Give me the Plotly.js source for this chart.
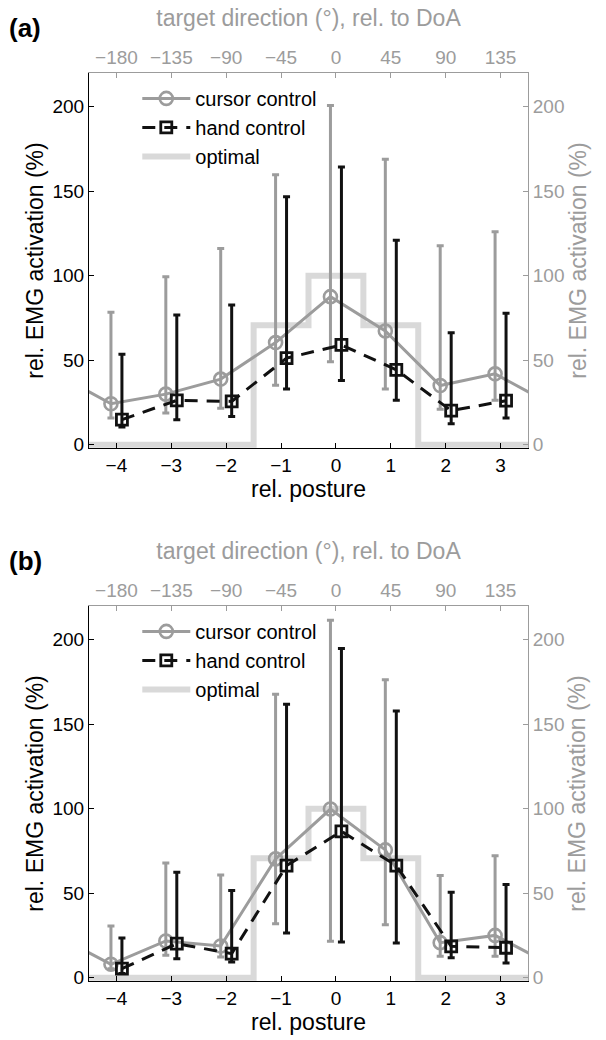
<!DOCTYPE html>
<html>
<head>
<meta charset="utf-8">
<script src="https://cdn.plot.ly/plotly-3.0.1.min.js"></script>
<style>html,body{margin:0;padding:0;background:#fff;}#chart{width:606px;height:1040px;}</style>
</head>
<body>
<div id="chart"></div>
<script>
// ---- data ----
const postures = [-4, -3, -2, -1, 0, 1, 2, 3];
const postureLabels = ['\u22124', '\u22123', '\u22122', '\u22121', '0', '1', '2', '3'];
const directions = ['\u2212180', '\u2212135', '\u221290', '\u221245', '0', '45', '90', '135'];
const yTicks = [0, 50, 100, 150, 200];

const optimalA = [0, 0, 0, 70.7, 100, 70.7, 0, 0];
const optimalB = [0, 0, 0, 70.7, 100, 70.7, 0, 0];

const cursorMeanA  = [24.2, 29.9, 38.8, 60.4, 87.6, 67.3, 35.0, 41.9];
const cursorUpperA = [78.3, 99.4, 116.1, 159.8, 200.7, 169.0, 117.7, 126.0];
const cursorLowerA = [15.7, 18.7, 21.5, 35.2, 49.0, 32.9, 21.0, 26.2];

const handMeanA  = [14.8, 26.2, 25.6, 51.2, 59.0, 44.3, 20.1, 26.0];
const handUpperA = [53.5, 76.8, 82.7, 146.7, 164.4, 121.0, 66.3, 77.8];
const handLowerA = [10.4, 14.8, 16.7, 32.9, 38.0, 26.2, 12.4, 15.7];

const cursorMeanB  = [7.9, 21.7, 18.7, 70.3, 99.8, 75.6, 20.7, 25.0];
const cursorUpperB = [30.5, 67.9, 60.8, 167.7, 211.5, 176.4, 60.4, 72.2];
const cursorLowerB = [5.3, 13.2, 12.2, 31.9, 21.5, 31.3, 12.6, 12.6];

const handMeanB  = [5.3, 20.1, 14.2, 66.3, 86.6, 66.3, 18.5, 17.7];
const handUpperB = [23.4, 62.4, 51.6, 161.8, 194.9, 157.9, 50.6, 55.1];
const handLowerB = [2.4, 11.2, 9.3, 26.4, 21.1, 20.5, 11.8, 8.7];

// ---- style ----
const GRAY = '#9c9c9c';
const LIGHT = '#d9d9d9';
const BLACK = '#111111';
const FONT = 'Liberation Sans, Arial, Helvetica, sans-serif';
const OFFSET = 0.1;
const N = postures.length;

// periodic wrap helpers (posture axis is circular)
function wrapX(off) {
  return [postures[N - 1] - N + off].concat(postures.map(p => p + off), [postures[0] + N + off]);
}
function wrapY(arr) { return [arr[N - 1]].concat(arr, [arr[0]]); }

function panelTraces(optimal, cMean, cUp, cLo, hMean, hUp, hLo, xa, xaTop, ya, yaRight, leg) {
  const cm = wrapY(cMean), cu = wrapY(cUp), cl = wrapY(cLo);
  return [
    {
      type: 'scatter', mode: 'lines', name: 'optimal',
      x: wrapX(0), y: wrapY(optimal), xaxis: xa, yaxis: ya, legend: leg,
      line: {color: LIGHT, width: 6, shape: 'hvh'},
      hoverinfo: 'skip', legendrank: 3
    },
    {
      type: 'scatter', mode: 'lines+markers', name: 'cursor control',
      x: wrapX(-OFFSET), y: cm, xaxis: xa, yaxis: ya, legend: leg,
      line: {color: GRAY, width: 3},
      marker: {symbol: 'circle-open', size: 13, color: GRAY, line: {width: 2.6, color: GRAY}},
      error_y: {type: 'data', symmetric: false,
        array: cu.map((u, i) => u - cm[i]), arrayminus: cm.map((m, i) => m - cl[i]),
        color: GRAY, thickness: 3, width: 3.5},
      legendrank: 1
    },
    {
      type: 'scatter', mode: 'lines+markers', name: 'hand control',
      x: postures.map(p => p + OFFSET), y: hMean, xaxis: xa, yaxis: ya, legend: leg,
      line: {color: BLACK, width: 3, dash: '13px,9px'},
      marker: {symbol: 'square-open', size: 11, color: BLACK, line: {width: 2.8, color: BLACK}},
      error_y: {type: 'data', symmetric: false,
        array: hUp.map((u, i) => u - hMean[i]), arrayminus: hMean.map((m, i) => m - hLo[i]),
        color: BLACK, thickness: 3, width: 3.5},
      legendrank: 2
    },
    // invisible carriers so the secondary (top / right) axes are drawn
    {type: 'scatter', mode: 'markers', x: [postures[0]], y: [yTicks[0]], xaxis: xaTop, yaxis: ya,
     marker: {opacity: 0}, showlegend: false, hoverinfo: 'skip'},
    {type: 'scatter', mode: 'markers', x: [postures[0]], y: [yTicks[0]], xaxis: xa, yaxis: yaRight,
     marker: {opacity: 0}, showlegend: false, hoverinfo: 'skip'}
  ];
}

const data = [].concat(
  panelTraces(optimalA, cursorMeanA, cursorUpperA, cursorLowerA, handMeanA, handUpperA, handLowerA, 'x', 'x2', 'y', 'y2', 'legend'),
  panelTraces(optimalB, cursorMeanB, cursorUpperB, cursorLowerB, handMeanB, handUpperB, handLowerB, 'x3', 'x4', 'y3', 'y4', 'legend2')
);

const TICKF = {family: FONT, size: 19, color: '#000'};
const TICKG = {family: FONT, size: 19, color: GRAY};
const TITLEF = {family: FONT, size: 23, color: '#000'};
const TITLEG = {family: FONT, size: 23, color: GRAY};
const XR = [-4.5, 3.5], YR = [-2, 220];

function bottomX(anchor) {
  return {anchor: anchor, domain: [0, 1], range: XR, tickvals: postures, ticktext: postureLabels,
    ticks: 'inside', ticklen: 5, tickcolor: '#000', showline: true, linecolor: '#000', linewidth: 1,
    showgrid: false, zeroline: false, tickfont: TICKF, title: {text: 'rel. posture', font: TITLEF, standoff: 4}};
}
function topX(over, anchor) {
  return {overlaying: over, anchor: anchor, side: 'top', range: XR, tickvals: postures, ticktext: directions,
    ticks: 'inside', ticklen: 5, tickcolor: GRAY, showline: true, linecolor: GRAY, linewidth: 1,
    showgrid: false, zeroline: false, tickfont: TICKG,
    title: {text: 'target direction (\u00b0), rel. to DoA', font: TITLEG, standoff: 14}};
}
function leftY(anchor, dom) {
  return {anchor: anchor, domain: dom, range: YR, tickvals: yTicks, ticks: 'inside', ticklen: 5, tickcolor: '#000',
    showline: true, linecolor: '#000', linewidth: 1, showgrid: false, zeroline: false, tickfont: TICKF,
    title: {text: 'rel. EMG activation (%)', font: TITLEF, standoff: 2}};
}
function rightY(over, anchor) {
  return {overlaying: over, anchor: anchor, side: 'right', range: YR, tickvals: yTicks, ticks: 'inside', ticklen: 5, tickcolor: GRAY,
    showline: true, linecolor: GRAY, linewidth: 1, showgrid: false, zeroline: false, tickfont: TICKG,
    title: {text: 'rel. EMG activation (%)', font: TITLEG, standoff: 2}};
}

const legendBase = {bgcolor: 'rgba(0,0,0,0)', borderwidth: 0, font: {family: FONT, size: 20, color: '#000'},
  xanchor: 'left', yanchor: 'top', traceorder: 'normal', itemclick: false, itemwidth: 48};

const layout = {
  width: 606, height: 1040,
  margin: {l: 89, r: 78, t: 73, b: 59},
  paper_bgcolor: '#fff', plot_bgcolor: '#fff',
  showlegend: true,
  font: {family: FONT},
  xaxis: bottomX('y'),
  xaxis2: topX('x', 'y'),
  yaxis: leftY('x', [0.587, 1]),
  yaxis2: rightY('y', 'x'),
  xaxis3: bottomX('y3'),
  xaxis4: topX('x3', 'y3'),
  yaxis3: leftY('x3', [0, 0.413]),
  yaxis4: rightY('y3', 'x3'),
  legend: Object.assign({}, legendBase, {x: 0.11, y: 0.9935}),
  legend2: Object.assign({}, legendBase, {x: 0.11, y: 0.4065}),
  annotations: [
    {text: '<b>(a)</b>', xref: 'paper', yref: 'paper', x: -0.186, y: 1.0496, xanchor: 'left', yanchor: 'middle',
     showarrow: false, font: {family: FONT, size: 26, color: '#000'}},
    {text: '<b>(b)</b>', xref: 'paper', yref: 'paper', x: -0.186, y: 0.4626, xanchor: 'left', yanchor: 'middle',
     showarrow: false, font: {family: FONT, size: 26, color: '#000'}}
  ]
};

Plotly.newPlot('chart', data, layout, {staticPlot: true, displayModeBar: false});
</script>
</body>
</html>
